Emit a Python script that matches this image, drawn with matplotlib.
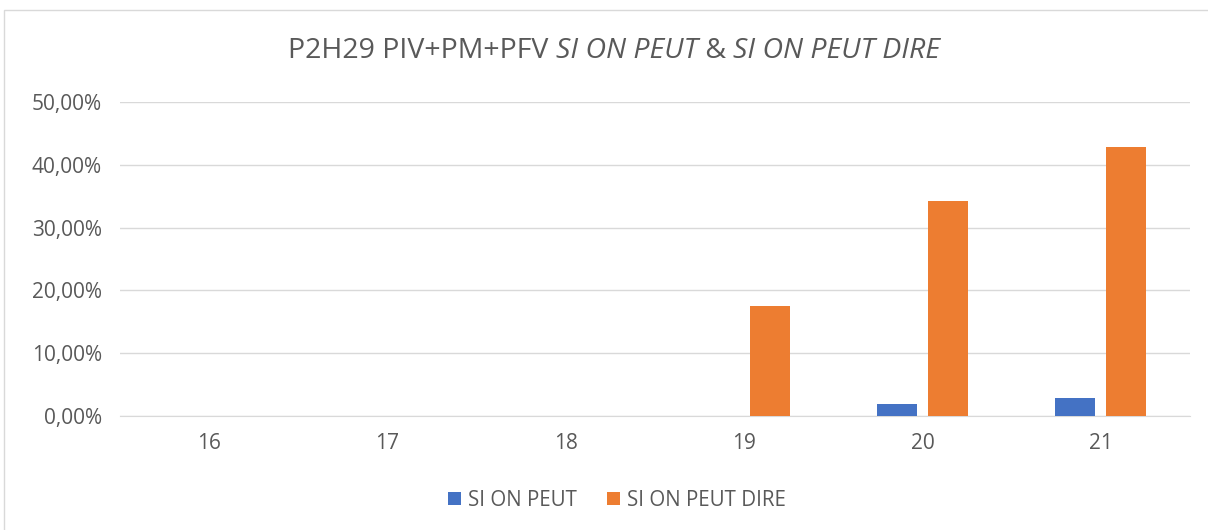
import matplotlib
matplotlib.use("Agg")
import matplotlib.pyplot as plt
from matplotlib.patches import Rectangle
import numpy as np

categories = ["16", "17", "18", "19", "20", "21"]
si_on_peut = [0.0, 0.0, 0.0, 0.0, 0.0192, 0.0294]
si_on_peut_dire = [0.0, 0.0, 0.0, 0.1757, 0.3425, 0.4287]
series_names = ["SI ON PEUT", "SI ON PEUT DIRE"]
yticks = [0.0, 0.1, 0.2, 0.3, 0.4, 0.5]

FONT = ["Open Sans", "DejaVu Sans"]
TXT = "#595959"
plt.rcParams['font.family'] = FONT

fig = plt.figure(figsize=(12.08, 5.30), dpi=100)
fig.patches.append(Rectangle((4/1208, -0.01), 1.02, 1 - 10/530 + 0.01, transform=fig.transFigure,
                             fill=False, edgecolor="#d9d9d9", linewidth=1))

ax = fig.add_axes([120/1208, 1 - 416/530, 1070/1208, (416 - 102)/530])
x = np.arange(len(categories))
w = 0.224
off = 0.143
ax.bar(x - off, si_on_peut, width=w, color="#4472C4", label=series_names[0], zorder=3)
ax.bar(x + off, si_on_peut_dire, width=w, color="#ED7D31", label=series_names[1], zorder=3)

ax.set_xlim(-0.5, len(categories) - 0.5)
ax.set_ylim(0, 0.5)
ax.set_yticks(yticks)
ax.set_yticklabels([f"{v*100:.2f}".replace(".", ",") + "%" for v in yticks])
ax.set_xticks(x)
ax.set_xticklabels(categories)
ax.grid(axis="y", color="#d9d9d9", linewidth=1, zorder=0)
for s in ["top", "right", "left"]:
    ax.spines[s].set_visible(False)
ax.spines["bottom"].set_color("#d9d9d9")
ax.tick_params(axis="both", length=0, colors=TXT, labelsize=15)
ax.tick_params(axis="x", pad=12)
ax.tick_params(axis="y", pad=13)

# Title with mixed styles
pieces = [("P2H29 PIV+PM+PFV ", "normal"), ("SI ON PEUT", "italic"), (" & ", "normal"),
          ("SI ON PEUT DIRE", "italic")]
renderer = fig.canvas.get_renderer()
texts = []
ty = 1 - 51/530
for s, st in pieces:
    t = fig.text(0, ty, s, fontsize=20.5, style=st, color=TXT, va="center", ha="left", family=FONT)
    texts.append(t)
widths = [t.get_window_extent(renderer).width for t in texts]
total = sum(widths)
cx = 614
xpos = cx - total / 2
for t, wd in zip(texts, widths):
    t.set_x(xpos / 1208)
    xpos += wd

leg = fig.legend(loc="center", bbox_to_anchor=(617/1208, 1 - 500/530), ncol=2, frameon=False,
                 fontsize=14.8, handlelength=0.62, handleheight=0.62, columnspacing=1.5, handletextpad=0.35)
for t in leg.get_texts():
    t.set_color(TXT)

fig.savefig("out.png", dpi=100)
